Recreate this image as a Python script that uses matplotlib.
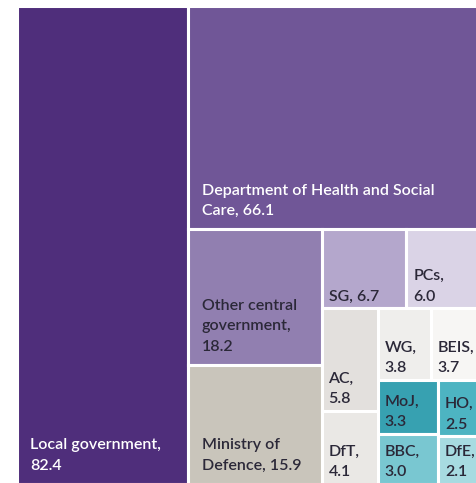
import matplotlib
matplotlib.use("Agg")
import matplotlib.pyplot as plt
from matplotlib.patches import Rectangle

# treemap values, in squarify order
names = ["Local government", "Department of Health and Social Care",
         "Other central government", "Ministry of Defence",
         "SG", "PCs", "AC", "DfT", "WG", "BEIS", "MoJ", "BBC", "HO", "DfE"]
values = [82.4, 66.1, 18.2, 15.9, 6.7, 6.0, 5.8, 4.1, 3.8, 3.7, 3.3, 3.0, 2.5, 2.1]

colours = ["#4f2e7b", "#705697", "#917fb0", "#c9c5bb", "#b4a7cc", "#dad3e6",
           "#e3e0dd", "#eae8e5", "#efeeec", "#f7f6f4", "#37a1b1", "#79c7d1",
           "#4db4c2", "#a7dbe1"]
light_text = {"Local government", "Department of Health and Social Care"}

# how the boxes are grouped into strips, and strip direction (v = column, h = row)
groups = [1, 1, 2, 2, 2, 2, 2, 2]
orient = ["v", "h", "v", "h", "v", "h", "v", "v"]

# treemap area in pixels; it runs a little past the right and bottom edges
X0, Y0, W, H = 16.5, 5.5, 465.5, 478
FIG_W, FIG_H = 476, 483
FONT = "Lato"
FS = 11.5
WEIGHT = "semibold"


# split a rectangle into strips, one group at a time
def layout(vals, x, y, w, h):
    rects = []
    total = sum(vals)
    i = 0
    for n, o in zip(groups, orient):
        chunk = vals[i:i + n]
        s = sum(chunk)
        if o == "v":
            cw = w * s / total
            yy = y
            for v in chunk:
                ch = h * v / s
                rects.append((x, yy, cw, ch))
                yy += ch
            x += cw
            w -= cw
        else:
            rh = h * s / total
            xx = x
            for v in chunk:
                cw = w * v / s
                rects.append((xx, y, cw, rh))
                xx += cw
            y += rh
            h -= rh
        total -= s
        i += n
    return rects


# greedy word wrap, measured with the real renderer
def wrap_label(ax, renderer, text, max_w):
    words = text.split(" ")
    lines = [words[0]]
    for word in words[1:]:
        trial = lines[-1] + " " + word
        t = ax.text(0, 0, trial, fontsize=FS, family=FONT, fontweight=WEIGHT)
        width = t.get_window_extent(renderer).width
        t.remove()
        if width <= max_w:
            lines[-1] = trial
        else:
            lines.append(word)
    return "\n".join(lines)


fig = plt.figure(figsize=(FIG_W / 100, FIG_H / 100), dpi=100)
ax = fig.add_axes([X0 / FIG_W, (FIG_H - Y0 - H) / FIG_H, W / FIG_W, H / FIG_H])
ax.set_xlim(0, W)
ax.set_ylim(H, 0)
ax.axis("off")
renderer = fig.canvas.get_renderer()

for name, val, col, (x, y, w, h) in zip(names, values, colours, layout(values, 0, 0, W, H)):
    ax.add_patch(Rectangle((x, y), w, h, facecolor=col, edgecolor="white",
                           linewidth=2.2, clip_on=False))
    big = w > 100
    pad_x = 13.5 if big else 7
    pad_y = 14 if big else 7.5
    max_w = w - 2 * pad_x - (0 if big else 8)
    label = wrap_label(ax, renderer, f"{name}, {val:.1f}", max_w)
    tc = "white" if name in light_text else "#2b2838"
    ax.text(x + pad_x, y + h - pad_y, label, color=tc, fontsize=FS, family=FONT,
            fontweight=WEIGHT, ha="left", va="baseline", linespacing=1.6)

fig.savefig("out.png", dpi=100)
